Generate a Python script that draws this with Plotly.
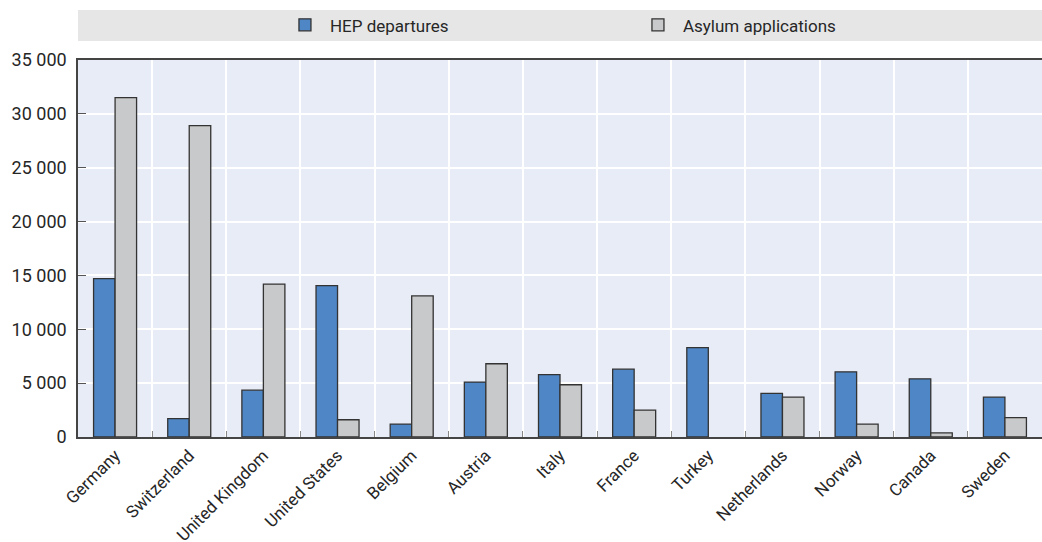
import plotly.graph_objects as go

countries = ["Germany", "Switzerland", "United Kingdom", "United States", "Belgium", "Austria",
             "Italy", "France", "Turkey", "Netherlands", "Norway", "Canada", "Sweden"]
hep_departures = [14700, 1700, 4350, 14050, 1200, 5100, 5800, 6300, 8300, 4050, 6050, 5400, 3700]
asylum_applications = [31500, 28900, 14200, 1600, 13100, 6800, 4850, 2500, None, 3700, 1200, 380, 1800]
y_ticks = [0, 5000, 10000, 15000, 20000, 25000, 30000, 35000]

FONT = "Roboto, sans-serif"

fig = go.Figure()
fig.add_trace(go.Bar(x=countries, y=hep_departures, name="HEP departures",
                     marker=dict(color="#4e86c6", line=dict(color="#333333", width=1.3))))
fig.add_trace(go.Bar(x=countries, y=asylum_applications, name="Asylum applications",
                     marker=dict(color="#c8c9ca", line=dict(color="#333333", width=1.3))))

# grey band behind the legend
fig.add_shape(type="rect", xref="paper", yref="paper", x0=0, x1=1.0, y0=1.0504, y1=1.1326,
              fillcolor="#e6e6e7", line_width=0, layer="below")

fig.update_layout(
    width=1042, height=542,
    margin=dict(l=78, r=0, t=60, b=105),
    barmode="group", bargap=0.42, bargroupgap=0,
    plot_bgcolor="#e8ecf6", paper_bgcolor="white",
    separators=". ",
    font=dict(family=FONT, size=17, color="#262626"),
    showlegend=True,
    legend=dict(orientation="h", x=0.2095, xanchor="left", y=1.092, yanchor="middle",
                bgcolor="rgba(0,0,0,0)", font=dict(size=17), entrywidth=298, itemwidth=40),
    xaxis=dict(tickson="boundaries", showgrid=True, gridcolor="white", gridwidth=1.5,
               ticks="inside", ticklen=6, tickcolor="#888888", tickangle=-45,
               showline=True, linecolor="#444444", linewidth=2, mirror=True,
               tickfont=dict(size=17), automargin=False),
    yaxis=dict(range=[0, 35000], tickvals=y_ticks, tickformat=",d", showgrid=True,
               gridcolor="white", gridwidth=1.5, ticks="inside", ticklen=8, tickcolor="#555555",
               showline=True, linecolor="#444444", linewidth=1.5, zeroline=False,
               tickfont=dict(size=18), ticklabelstandoff=6, automargin=False),
)

fig.write_html("out.html", config={"displayModeBar": False},
               post_script="document.body.style.margin='0px';")
